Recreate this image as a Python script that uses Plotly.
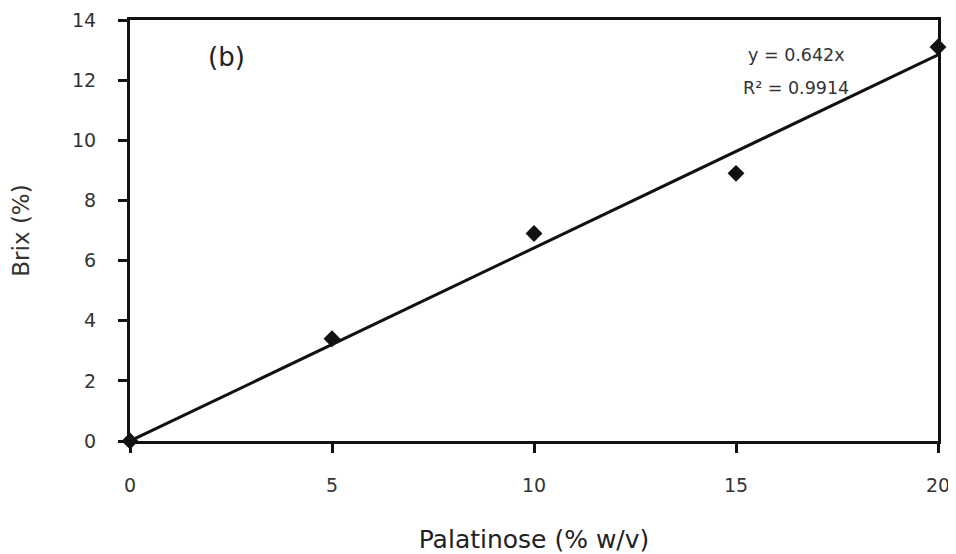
import plotly.graph_objects as go

palatinose = [0, 5, 10, 15, 20]
brix = [0, 3.4, 6.9, 8.9, 13.1]
slope = 0.642
r2 = 0.9914
fit_x = [0, 20]
fit_y = [slope * v for v in fit_x]

x_ticks = [0, 5, 10, 15, 20]
y_ticks = [0, 2, 4, 6, 8, 10, 12, 14]

font_family = "DejaVu Sans"

fig = go.Figure()
fig.add_trace(go.Scatter(x=fit_x, y=fit_y, mode="lines",
                         line=dict(color="#111111", width=3), showlegend=False))
fig.add_trace(go.Scatter(x=palatinose, y=brix, mode="markers",
                         marker=dict(symbol="diamond", size=13, color="#111111"),
                         showlegend=False, cliponaxis=False))

fig.add_annotation(x=2.38, y=12.77, text="(b)", showarrow=False,
                   xanchor="center", yanchor="middle",
                   font=dict(size=26, color="#222222", family=font_family))
fig.add_annotation(x=16.49, y=12.84, text="y = 0.642x", showarrow=False,
                   xanchor="center", yanchor="middle",
                   font=dict(size=17.5, color="#333333", family=font_family))
fig.add_annotation(x=16.49, y=11.74, text="R² = " + str(r2), showarrow=False,
                   xanchor="center", yanchor="middle",
                   font=dict(size=17.5, color="#333333", family=font_family))

axis_common = dict(showline=True, linecolor="#111111", linewidth=3, mirror=True,
                   ticks="outside", ticklen=9, tickwidth=2.5, tickcolor="#111111",
                   showgrid=False, zeroline=False, automargin=False,
                   tickfont=dict(size=19, color="#333333", family=font_family))

fig.update_xaxes(range=[0, 20], tickvals=x_ticks,
                 title=dict(text="Palatinose (% w/v)", standoff=53,
                            font=dict(size=25, color="#222222", family=font_family)),
                 ticklabelstandoff=16, **axis_common)
fig.update_yaxes(range=[0, 14], tickvals=y_ticks,
                 title=dict(text="Brix (%)", standoff=38,
                            font=dict(size=23, color="#333333", family=font_family)),
                 ticklabelstandoff=18, **axis_common)

fig.update_layout(width=948, height=546, plot_bgcolor="white", paper_bgcolor="white",
                  margin=dict(l=122, r=18, t=12, b=113))

fig.write_html("out.html")
